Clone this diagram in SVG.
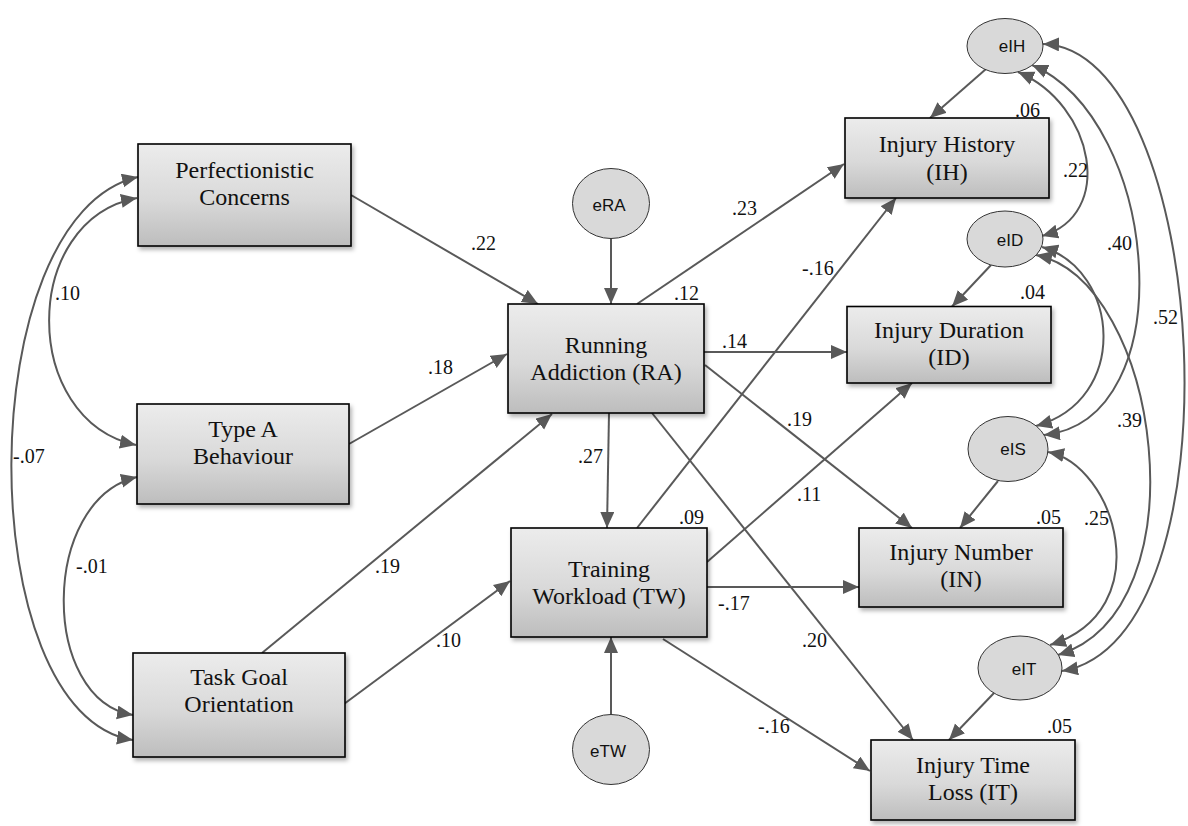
<svg xmlns="http://www.w3.org/2000/svg" width="1188" height="826" viewBox="0 0 1188 826">
  <defs>
    <linearGradient id="boxFill" x1="0" y1="0" x2="0" y2="1">
      <stop offset="0" stop-color="#ececec"/>
      <stop offset="0.55" stop-color="#d9d9d9"/>
      <stop offset="1" stop-color="#bdbdbd"/>
    </linearGradient>
    <filter id="shadow" x="-10%" y="-10%" width="125%" height="130%">
      <feDropShadow dx="2" dy="3" stdDeviation="2" flood-color="#000" flood-opacity="0.3"/>
    </filter>
    <marker id="arrow" markerUnits="userSpaceOnUse" markerWidth="17" markerHeight="15" refX="16" refY="7" orient="auto-start-reverse">
      <path d="M0,0 L16,7 L0,14 z" fill="#595959"/>
    </marker>
    <style>
      .box { fill: url(#boxFill); stroke: #000; stroke-width: 1.6; filter: url(#shadow); }
      .err { fill: #d9d9d9; stroke: #333; stroke-width: 1; }
      .lbl { font-family: "Liberation Serif", "Times New Roman", serif; font-size: 24px; fill: #111; text-anchor: middle; }
      .elbl { font-family: "Liberation Sans", Arial, sans-serif; font-size: 17px; fill: #111; text-anchor: middle; }
      .num { font-family: "Liberation Serif", "Times New Roman", serif; font-size: 20px; fill: #111; }
      .path { fill: none; stroke: #595959; stroke-width: 2; marker-end: url(#arrow); }
      .cov { fill: none; stroke: #595959; stroke-width: 2; marker-start: url(#arrow); marker-end: url(#arrow); }
    </style>
  </defs>

  <rect width="1188" height="826" fill="#fff"/>

  <!-- connectors: regression paths and covariances -->
  <g id="connectors">
    <line class="path" x1="351" y1="195" x2="538" y2="304"/>
    <line class="path" x1="349" y1="444" x2="507" y2="354"/>
    <line class="path" x1="262" y1="653" x2="552" y2="414"/>
    <line class="path" x1="344" y1="704" x2="510" y2="581"/>
    <line class="path" x1="611" y1="238.5" x2="611" y2="304"/>
    <line class="path" x1="611" y1="714.5" x2="611" y2="637"/>

    <line class="path" x1="637" y1="304" x2="844" y2="164"/>
    <line class="path" x1="704" y1="352" x2="847" y2="352"/>
    <line class="path" x1="705" y1="365" x2="912" y2="528"/>
    <line class="path" x1="609" y1="413" x2="607" y2="528"/>
    <line class="path" x1="652" y1="413" x2="913" y2="740"/>

    <line class="path" x1="637" y1="528" x2="896" y2="198"/>
    <line class="path" x1="707" y1="562" x2="912" y2="383"/>
    <line class="path" x1="707" y1="587" x2="859" y2="587"/>
    <line class="path" x1="663" y1="639" x2="870" y2="771"/>

    <line class="path" x1="986" y1="69" x2="930" y2="118"/>
    <line class="path" x1="991" y1="265" x2="952" y2="306.5"/>
    <line class="path" x1="998" y1="481" x2="960" y2="528"/>
    <line class="path" x1="994" y1="693" x2="949" y2="740"/>

    <!-- covariances between exogenous predictors -->
    <path class="cov" d="M137,198 C20,220 20,420 136,445"/>
    <path class="cov" d="M138,177 C-30,215 -30,715 133,740"/>
    <path class="cov" d="M137,477 C40,500 40,700 133,715"/>

    <!-- covariances between injury residuals -->
    <path class="cov" d="M1018,72 C1095,105 1115,215 1042,236"/>
    <path class="cov" d="M1032,65 C1160,120 1185,420 1044,435"/>
    <path class="cov" d="M1043,44 C1210,48 1245,640 1062,671"/>
    <path class="cov" d="M1042,247 C1120,270 1130,400 1036,426"/>
    <path class="cov" d="M1036,255 C1160,280 1205,610 1058,655"/>
    <path class="cov" d="M1048,452 C1115,465 1160,610 1050,645"/>
  </g>

  <!-- coefficient labels -->
  <g id="coefficients">
    <text class="num" x="471" y="250">.22</text>
    <text class="num" x="428" y="374">.18</text>
    <text class="num" x="375" y="573">.19</text>
    <text class="num" x="436" y="647">.10</text>
    <text class="num" x="55" y="300">.10</text>
    <text class="num" x="13" y="463">-.07</text>
    <text class="num" x="76" y="573">-.01</text>
    <text class="num" x="674" y="300">.12</text>
    <text class="num" x="679" y="524">.09</text>
    <text class="num" x="732" y="215">.23</text>
    <text class="num" x="722" y="348">.14</text>
    <text class="num" x="802" y="275">-.16</text>
    <text class="num" x="787" y="426">.19</text>
    <text class="num" x="578" y="463">.27</text>
    <text class="num" x="797" y="501">.11</text>
    <text class="num" x="718" y="610">-.17</text>
    <text class="num" x="802" y="647">.20</text>
    <text class="num" x="758" y="733">-.16</text>
    <text class="num" x="1015" y="117">.06</text>
    <text class="num" x="1020" y="299">.04</text>
    <text class="num" x="1036" y="524">.05</text>
    <text class="num" x="1047" y="733">.05</text>
    <text class="num" x="1063" y="177">.22</text>
    <text class="num" x="1107" y="250">.40</text>
    <text class="num" x="1153" y="324">.52</text>
    <text class="num" x="1117" y="427">.39</text>
    <text class="num" x="1084" y="525">.25</text>
  </g>

  <g id="PC">
    <rect class="box" x="138" y="144" width="213" height="102"/>
    <text class="lbl" x="244.5" y="177.5">Perfectionistic</text>
    <text class="lbl" x="244.5" y="205">Concerns</text>
  </g>
  <g id="TA">
    <rect class="box" x="137" y="404" width="212" height="100"/>
    <text class="lbl" x="243" y="437">Type A</text>
    <text class="lbl" x="243" y="463.5">Behaviour</text>
  </g>
  <g id="TGO">
    <rect class="box" x="133" y="653" width="212" height="104"/>
    <text class="lbl" x="239" y="685">Task Goal</text>
    <text class="lbl" x="239" y="712">Orientation</text>
  </g>
  <g id="RA">
    <rect class="box" x="508" y="304" width="196" height="109"/>
    <text class="lbl" x="606" y="353">Running</text>
    <text class="lbl" x="606" y="380">Addiction (RA)</text>
  </g>
  <g id="TW">
    <rect class="box" x="511" y="528" width="196" height="109"/>
    <text class="lbl" x="609" y="577">Training</text>
    <text class="lbl" x="609" y="604">Workload (TW)</text>
  </g>
  <g id="IH">
    <rect class="box" x="845" y="118" width="204" height="80"/>
    <text class="lbl" x="947" y="152">Injury History</text>
    <text class="lbl" x="947" y="180">(IH)</text>
  </g>
  <g id="ID">
    <rect class="box" x="847" y="306.5" width="204" height="76.5"/>
    <text class="lbl" x="949" y="337.5">Injury Duration</text>
    <text class="lbl" x="949" y="365">(ID)</text>
  </g>
  <g id="IN">
    <rect class="box" x="859" y="528" width="204" height="79"/>
    <text class="lbl" x="961" y="559.5">Injury Number</text>
    <text class="lbl" x="961" y="587">(IN)</text>
  </g>
  <g id="IT">
    <rect class="box" x="871" y="740" width="204" height="80"/>
    <text class="lbl" x="973" y="772.5">Injury Time</text>
    <text class="lbl" x="973" y="799.5">Loss (IT)</text>
  </g>

  <g id="eRA">
    <ellipse class="err" cx="611" cy="203.5" rx="38.5" ry="35"/>
    <text class="elbl" x="609" y="211">eRA</text>
  </g>
  <g id="eTW">
    <ellipse class="err" cx="611" cy="749.5" rx="38.5" ry="35"/>
    <text class="elbl" x="608" y="757">eTW</text>
  </g>
  <g id="eIH">
    <ellipse class="err" cx="1005" cy="46" rx="38" ry="27.5"/>
    <text class="elbl" x="1012" y="52">eIH</text>
  </g>
  <g id="eID">
    <ellipse class="err" cx="1005" cy="239" rx="38" ry="28"/>
    <text class="elbl" x="1010" y="246">eID</text>
  </g>
  <g id="eIS">
    <ellipse class="err" cx="1008" cy="449" rx="40" ry="32.5"/>
    <text class="elbl" x="1013" y="455">eIS</text>
  </g>
  <g id="eIT">
    <ellipse class="err" cx="1020" cy="668" rx="42" ry="32"/>
    <text class="elbl" x="1024" y="675">eIT</text>
  </g>
</svg>
